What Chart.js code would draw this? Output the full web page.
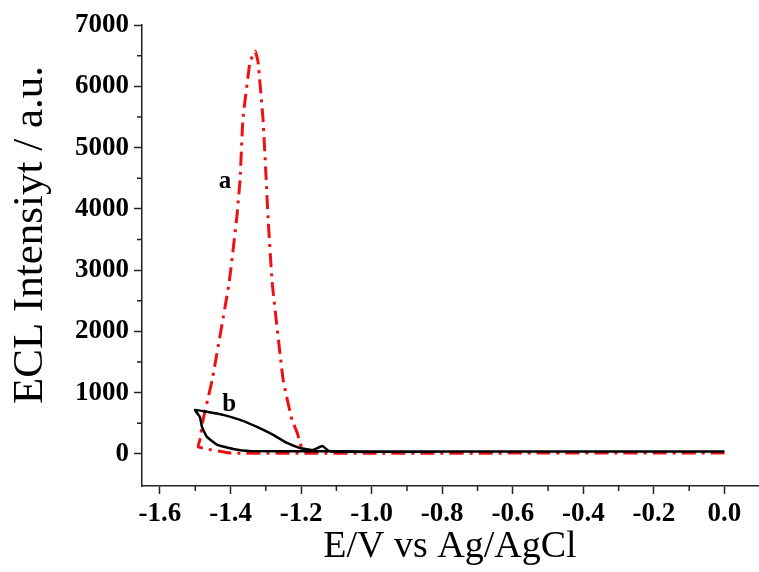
<!DOCTYPE html>
<html>
<head>
<meta charset="utf-8">
<script src="https://cdn.jsdelivr.net/npm/chart.js@4.4.1/dist/chart.umd.min.js"></script>
<style>
  body { margin: 0; background: #fff; }
  #wrap { width: 759px; height: 572px; }
</style>
</head>
<body>
<div id="wrap"><canvas id="chartCanvas" width="759" height="572"></canvas></div>
<script>
// curve a (red, dash-dot): baseline scan, then the peak loop
const curveA_x = [0.0, -0.5, -1.0, -1.2, -1.4, -1.492, -1.487, -1.478, -1.452, -1.404, -1.382, -1.373, -1.365, -1.345, -1.330,
                  -1.322, -1.308, -1.299, -1.294, -1.282, -1.251, -1.226, -1.211, -1.203, -1.194, -1.0, -0.5, 0.0];
const curveA_y = [16, 14, 12, 12, 14, 114, 229, 556, 1210, 2797, 3876, 4481, 5463, 6395, 6575,
                  6395, 5463, 4481, 3876, 2797, 1210, 556, 344, 180, 50, 16, 14, 16];

// curve b (black, solid)
const curveB_x = [0.0, -0.5, -1.0, -1.2, -1.345, -1.393, -1.438, -1.467, -1.481, -1.487, -1.501,
                  -1.467, -1.421, -1.373, -1.325, -1.279, -1.240, -1.203, -1.166, -1.140, -1.118, -0.8, -0.4, 0.0];
const curveB_y = [40, 40, 42, 45, 49, 82, 147, 278, 442, 605, 720,
                  687, 638, 556, 442, 311, 180, 98, 65, 130, 38, 38, 38, 40];

const xTicks = [-1.6, -1.4, -1.2, -1.0, -0.8, -0.6, -0.4, -0.2, 0.0];
const xMinor = [-1.5, -1.3, -1.1, -0.9, -0.7, -0.5, -0.3, -0.1];
const yTicks = [0, 1000, 2000, 3000, 4000, 5000, 6000, 7000];
const yMinor = [500, 1500, 2500, 3500, 4500, 5500, 6500];

const curveLabels = [
  { text: 'a', x: -1.416, y: 4449 },
  { text: 'b', x: -1.404, y: 801 }
];

const toPoints = (xs, ys) => xs.map((x, i) => ({ x, y: ys[i] }));

const minorTicks = {
  id: 'minorTicks',
  afterDraw(chart) {
    const c = chart.ctx;
    const xs = chart.scales.x, ys = chart.scales.y;
    const area = chart.chartArea;
    c.save();
    c.strokeStyle = '#222';
    c.lineWidth = 1.5;
    c.beginPath();
    xMinor.forEach(v => {
      const px = xs.getPixelForValue(v);
      c.moveTo(px, area.bottom);
      c.lineTo(px, area.bottom + 5);
    });
    yMinor.forEach(v => {
      const py = ys.getPixelForValue(v);
      c.moveTo(area.left, py);
      c.lineTo(area.left - 5, py);
    });
    c.stroke();

    // curve labels
    c.fillStyle = '#000';
    c.font = 'bold 25px "Liberation Serif", serif';
    c.textAlign = 'center';
    c.textBaseline = 'middle';
    curveLabels.forEach(l => {
      c.fillText(l.text, xs.getPixelForValue(l.x), ys.getPixelForValue(l.y));
    });

    // y axis title
    c.font = '43px "Liberation Serif", serif';
    c.translate(31, 235);
    c.rotate(-Math.PI / 2);
    c.fillText('ECL Intensiyt / a.u.', 0, 0);
    c.restore();
  }
};

const ctx = document.getElementById('chartCanvas').getContext('2d');
new Chart(ctx, {
  type: 'scatter',
  data: {
    datasets: [
      {
        label: 'b',
        data: toPoints(curveB_x, curveB_y),
        showLine: true,
        borderColor: '#000',
        borderWidth: 2.5,
        pointRadius: 0,
        tension: 0.1,
        order: 0
      },
      {
        label: 'a',
        data: toPoints(curveA_x, curveA_y),
        showLine: true,
        borderColor: '#ee1111',
        borderWidth: 3,
        borderDash: [14, 6, 3, 6],
        pointRadius: 0,
        tension: 0.1,
        order: 1
      }
    ]
  },
  options: {
    responsive: false,
    animation: false,
    layout: { padding: { top: 25, right: 1, left: 0, bottom: 0 } },
    plugins: {
      legend: { display: false },
      tooltip: { enabled: false }
    },
    scales: {
      x: {
        type: 'linear',
        min: -1.651,
        max: 0.095,
        afterBuildTicks: s => { s.ticks = xTicks.map(v => ({ value: v })); },
        afterFit: s => { s.height = 86; },
        border: { display: true, color: '#222', width: 1.5 },
        grid: { drawOnChartArea: false, drawTicks: true, tickLength: 8, tickColor: '#222', tickWidth: 1.5 },
        ticks: {
          color: '#000',
          padding: 4,
          maxRotation: 0,
          font: { family: '"Liberation Serif", serif', size: 27, weight: 'bold' },
          callback: v => v.toFixed(1)
        },
        title: {
          display: true,
          text: 'E/V vs Ag/AgCl',
          color: '#000',
          font: { family: '"Liberation Serif", serif', size: 38 },
          padding: { top: 0, bottom: 2 }
        }
      },
      y: {
        type: 'linear',
        min: -523,
        max: 7000,
        afterBuildTicks: s => { s.ticks = yTicks.map(v => ({ value: v })); },
        afterFit: s => { s.width = 142; },
        border: { display: true, color: '#222', width: 1.5 },
        grid: { drawOnChartArea: false, drawTicks: true, tickLength: 8, tickColor: '#222', tickWidth: 1.5 },
        ticks: {
          color: '#000',
          padding: 5,
          font: { family: '"Liberation Serif", serif', size: 27, weight: 'bold' },
          callback: v => String(v)
        }
      }
    }
  },
  plugins: [minorTicks]
});
</script>
</body>
</html>
